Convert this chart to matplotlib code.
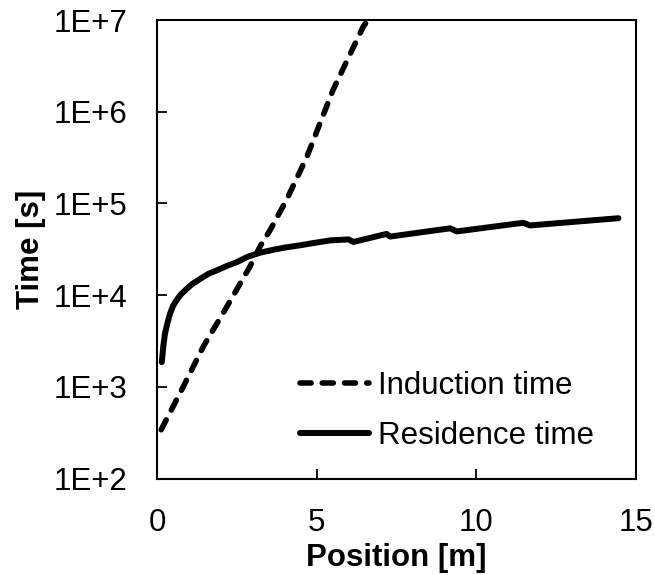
import numpy as np
import matplotlib.pyplot as plt
from matplotlib.ticker import FixedLocator, FixedFormatter, NullLocator

plt.rcParams['font.family'] = ['Liberation Sans', 'DejaVu Sans']

# induction time (dashed)
ind_x = [0.13, 0.82, 1.45, 2.18, 2.91, 3.23, 3.54, 4.06, 4.69, 5.52, 6.46, 6.61]
ind_y = [3.4e2, 1.0e3, 2.75e3, 7.4e3, 2.05e4, 3.4e4, 5.1e4, 1.1e5, 3.2e5, 1.75e6, 8.5e6, 1.0e7]

# residence time (solid), small drops where the sections change
res_x = [0.15, 0.2, 0.25, 0.33, 0.41, 0.5, 0.62, 0.75, 0.93, 1.1, 1.35, 1.6, 1.87, 2.2,
         2.5, 2.85, 3.23, 3.6, 4.0, 4.5, 4.8, 5.42, 6.0, 6.15, 7.19, 7.3, 9.18, 9.39,
         11.47, 11.68, 14.45]
res_y = [1.86e3, 2.82e3, 3.8e3, 5.0e3, 6.3e3, 7.6e3, 8.9e3, 1.02e4, 1.17e4, 1.32e4, 1.5e4,
         1.7e4, 1.86e4, 2.09e4, 2.29e4, 2.63e4, 2.9e4, 3.1e4, 3.3e4, 3.5e4, 3.65e4, 3.95e4,
         4.05e4, 3.8e4, 4.65e4, 4.35e4, 5.35e4, 4.95e4, 6.15e4, 5.75e4, 6.9e4]

xticks = [0, 5, 10, 15]
yticks = [1e2, 1e3, 1e4, 1e5, 1e6, 1e7]
ylabels = ['1E+2', '1E+3', '1E+4', '1E+5', '1E+6', '1E+7']

fs = 22.5
fig = plt.figure(figsize=(6.55, 5.75), dpi=100)
ax = fig.add_axes([0.2397, 0.1678, 0.7313, 0.7974])

ax.plot(ind_x, ind_y, color='black', lw=4, linestyle=(0, (2.0, 2.0)),
        dash_capstyle='round', label='Induction time')
ax.plot(res_x, res_y, color='black', lw=4.3, solid_capstyle='round',
        solid_joinstyle='round', label='Residence time')

ax.set_yscale('log')
ax.set_xlim(0, 15)
ax.set_ylim(1e2, 1e7)
ax.set_xticks(xticks)
ax.yaxis.set_major_locator(FixedLocator(yticks))
ax.yaxis.set_major_formatter(FixedFormatter(ylabels))
ax.yaxis.set_minor_locator(NullLocator())
ax.tick_params(direction='in', length=7, width=1.3, pad=21, labelsize=fs)
for s in ax.spines.values():
    s.set_linewidth(1.5)

ax.set_xlabel('Position [m]', fontsize=fs, fontweight='bold', labelpad=4)
ax.set_ylabel('Time [s]', fontsize=fs, fontweight='bold', labelpad=6)

ax.legend(loc='center left', bbox_to_anchor=(0.2985, 0.148), frameon=False,
          fontsize=fs, borderpad=0, borderaxespad=0, handlelength=2.2,
          handletextpad=0.3, labelspacing=0.65)

fig.savefig('out.png', dpi=100)
